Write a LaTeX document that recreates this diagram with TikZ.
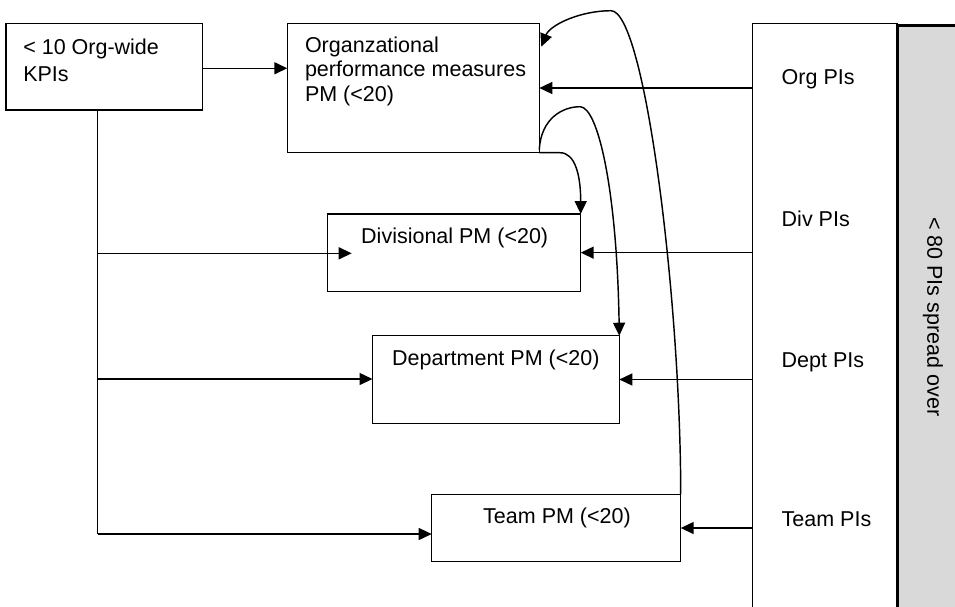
\documentclass[tikz,border=0pt]{standalone}
\usepackage{fontspec}
\setmainfont{Liberation Sans}
\usetikzlibrary{arrows.meta,calc}
\begin{document}
\begin{tikzpicture}[x=1pt,y=-1pt,
  box/.style={draw, line width=1.45pt, rectangle, inner sep=0pt, outer sep=0pt, anchor=north west},
  conn/.style={line width=1.45pt},
  arr/.style={conn, -{Triangle[length=13pt,width=12pt]}},
  lbl/.style={inner sep=0pt, outer sep=0pt, font=\fontsize{21.5}{26.7}\selectfont},
]
\useasboundingbox (0,0) rectangle (955,606);

% right-hand panel of performance indicators (runs off the page)
\begin{scope}
  \clip (0,0) rectangle (955,606);
  \node[box, minimum width=145pt, minimum height=620pt] (P) at (752.3,23.3) {};
  \node[box, fill=black!15, line width=3.4pt, minimum width=120pt, minimum height=620pt] (G) at (897.5,25.3) {};
\end{scope}

% measure boxes
\node[box, minimum width=196.3pt, minimum height=86.7pt]  (A) at (6,23.3) {};
\node[box, minimum width=252pt,   minimum height=129.4pt] (B) at (287.3,23.3) {};
\node[box, minimum width=253pt,   minimum height=77.3pt]  (C) at (327.7,214) {};
\node[box, minimum width=246.8pt, minimum height=87.6pt]  (D) at (372.5,335.7) {};
\node[box, minimum width=249pt,   minimum height=67.4pt]  (E) at (431.7,494.3) {};

% box texts
\node[lbl, anchor=base west] (tA) at (23.3,54.3)
  {\begin{tabular}[t]{@{}l@{}}< 10 Org-wide\\KPIs\end{tabular}};
\node[lbl, anchor=base west, font=\fontsize{21.5}{24.2}\selectfont] (tB) at (305,52.7)
  {\begin{tabular}[t]{@{}l@{}}Organzational\\performance measures\\PM (<20)\end{tabular}};
\node[lbl, anchor=base] (tC) at (454.7,243.3) {Divisional PM (<20)};
\node[lbl, anchor=base] (tD) at (495.8,365.7) {Department PM (<20)};
\node[lbl, anchor=base] (tE) at (557,523.3) {Team PM (<20)};

% panel texts
\node[lbl, anchor=base west] (pOrg)  at (781.7,84.3)  {Org PIs};
\node[lbl, anchor=base west] (pDiv)  at (781.7,226)   {Div PIs};
\node[lbl, anchor=base west] (pDept) at (781.7,367.3) {Dept PIs};
\node[lbl, anchor=base west] (pTeam) at (781.7,526.7) {Team PIs};
\node[lbl, rotate=-90] (note) at (933,316.7) {< 80 PIs spread over};

% KPI feed into the organisational measures
\draw[arr] ($(A.east)+(0,1.6)$) -- ($(A.east -| B.west)+(0,1.6)$);

% KPI trunk down the left side
\coordinate (T0)    at (97.7,110);
\coordinate (Tdiv)  at (97.7,253.3);
\coordinate (Cin)   at (351.7,253.3);
\coordinate (Tdept) at (97.7,379);
\coordinate (T1)    at (97.7,534);
\draw[conn] (T0) -- (T1);
\draw[arr] (Tdiv) -- (Cin);
\draw[arr] (Tdept) -- (Tdept -| D.west);
\draw[arr] (T1) -- (T1 -| E.west);

% indicators from the right panel
\draw[arr] (P.west |- B.east) -- (B.east);
\draw[arr] (P.west |- C.east) -- (C.east);
\draw[arr] (P.west |- D.east) -- (D.east);
\draw[arr] (P.west |- E.east) -- (E.east);

% feedback and cascade curves
\draw[arr] (E.north east) .. controls (680.7,300) and (645,10.7) .. (611,10.7)
  .. controls (580,10.7) and (550,25) .. ($(B.north east)+(2,23.4)$);
\draw[arr] ($(B.south east)+(0,-3)$) .. controls (541,118) and (563,106.7) .. (580,106.7)
  .. controls (598,106.7) and (617,190) .. (D.north east);
\draw[arr] (B.south east) -- (560,152.7) .. controls (575,152.7) and (580.7,175) .. (C.north east);
\end{tikzpicture}
\end{document}
